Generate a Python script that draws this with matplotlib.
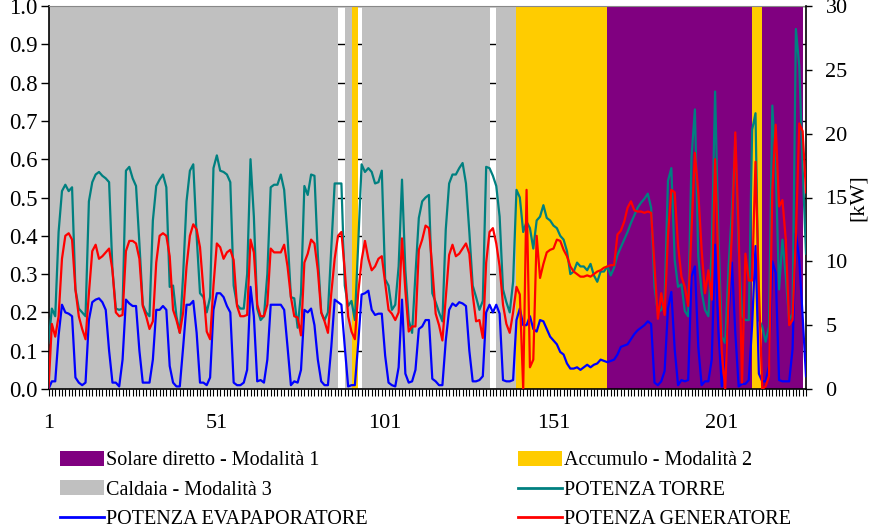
import numpy as np
import matplotlib
matplotlib.use("Agg")
import matplotlib.pyplot as plt
from matplotlib.patches import Patch
from matplotlib.lines import Line2D

# ---------------- data ----------------
# operating mode per hour, as runs of (mode code, number of hours)
# 1 = Solare diretto, 2 = Accumulo, 3 = Caldaia, 0 = none
mode_runs = [(3, 86), (0, 2), (3, 2), (2, 2), (0, 1), (3, 38), (0, 2), (3, 6),
             (2, 27), (1, 43), (2, 3), (1, 12), (0, 2)]

torre = [3.6, 6.3, 5.7, 12.3, 15.5, 16.0, 15.5, 15.8, 7.8, 6.3,
         6.0, 5.7, 14.7, 16.2, 16.8, 17.0, 16.7, 16.5, 16.2, 9.3,
         6.3, 6.2, 6.3, 17.1, 17.4, 16.5, 15.9, 11.4, 6.6, 6.0,
         5.7, 13.2, 15.9, 16.4, 16.8, 15.8, 8.0, 8.1, 5.7, 4.4,
         9.0, 14.7, 17.1, 17.6, 12.0, 7.5, 7.2, 6.0, 7.2, 17.3,
         18.3, 17.1, 17.0, 16.8, 16.2, 8.1, 6.6, 6.3, 6.3, 9.0,
         18.0, 13.5, 6.3, 5.4, 5.7, 9.0, 15.8, 16.0, 16.0, 16.8,
         15.6, 12.0, 7.2, 7.1, 4.8, 7.5, 15.9, 15.2, 16.8, 16.7,
         10.5, 6.0, 5.4, 6.0, 11.1, 16.1, 16.1, 16.1, 8.1, 6.5,
         6.9, 5.4, 11.4, 17.6, 17.0, 17.3, 17.0, 16.1, 16.2, 17.1,
         8.6, 8.1, 6.2, 6.6, 9.6, 16.4, 9.3, 5.4, 4.4, 9.0,
         13.4, 14.7, 15.0, 15.2, 7.5, 6.8, 6.0, 5.3, 12.5, 16.1,
         16.8, 16.8, 17.3, 17.7, 16.1, 12.3, 8.1, 7.2, 6.2, 6.9,
         17.4, 17.3, 16.7, 15.9, 13.5, 7.8, 6.8, 6.0, 8.4, 15.6,
         15.0, 12.3, 13.1, 12.6, 11.0, 13.2, 13.5, 14.4, 13.4, 13.2,
         12.8, 12.6, 12.0, 11.7, 10.8, 9.0, 9.2, 9.9, 9.6, 9.6,
         9.3, 9.8, 8.9, 8.4, 9.2, 9.2, 9.6, 8.9, 9.5, 10.5,
         11.1, 11.7, 12.3, 13.0, 13.6, 14.2, 14.6, 14.9, 15.3, 14.2,
         8.0, 6.0, 6.2, 7.0, 16.3, 17.3, 10.1, 8.0, 8.2, 6.1,
         5.7, 18.2, 21.9, 10.4, 7.6, 6.2, 5.7, 11.0, 23.3, 12.0,
         4.1, 3.6, 9.6, 14.0, 19.5, 11.0, 5.7, 5.4, 5.4, 20.3,
         21.6, 5.4, 4.9, 3.7, 4.9, 22.2, 17.4, 7.8, 11.7, 8.8,
         5.4, 5.9, 28.2, 25.3, 17.4, 10.6]

evaporatore = [0.0, 0.6, 0.6, 4.2, 6.6, 6.0, 5.9, 5.7, 0.9, 0.5,
               0.3, 0.5, 5.4, 6.8, 7.0, 7.1, 6.8, 6.2, 3.0, 0.5,
               0.5, 0.2, 2.3, 7.0, 6.7, 6.5, 6.5, 3.0, 0.5, 0.5,
               0.5, 2.3, 6.2, 6.2, 6.5, 6.2, 1.8, 0.5, 0.2, 0.2,
               3.3, 6.6, 6.6, 6.9, 4.4, 0.5, 0.5, 0.3, 0.9, 6.2,
               7.5, 7.5, 7.2, 6.5, 6.0, 0.5, 0.3, 0.3, 0.5, 1.5,
               8.0, 5.7, 0.6, 0.7, 0.5, 2.3, 6.6, 6.6, 6.6, 6.6,
               6.2, 3.3, 0.3, 0.6, 0.5, 1.5, 6.2, 6.0, 6.3, 5.0,
               2.3, 0.6, 0.3, 0.3, 3.3, 7.0, 6.8, 6.6, 3.3, 0.2,
               0.3, 0.3, 3.6, 7.4, 7.5, 7.7, 6.2, 5.8, 5.9, 5.9,
               2.6, 0.5, 0.3, 0.2, 1.7, 7.0, 1.2, 0.5, 0.6, 1.5,
               4.7, 4.9, 5.4, 5.4, 0.8, 0.6, 0.3, 0.3, 3.8, 6.2,
               6.7, 6.5, 6.8, 6.7, 6.5, 3.0, 0.6, 0.6, 0.7, 1.0,
               6.0, 6.6, 6.0, 6.6, 5.9, 0.7, 0.6, 0.6, 0.7, 5.4,
               6.3, 5.0, 5.0, 5.7, 4.7, 4.5, 5.4, 5.3, 4.7, 4.1,
               3.8, 3.5, 2.9, 2.7, 2.0, 1.6, 1.6, 1.7, 1.5, 1.7,
               1.9, 1.7, 1.9, 2.0, 2.3, 2.2, 2.1, 2.2, 2.3, 2.7,
               3.3, 3.4, 3.5, 3.9, 4.3, 4.6, 4.8, 5.0, 5.3, 5.1,
               0.5, 0.3, 0.6, 1.4, 6.3, 7.6, 3.1, 0.3, 0.7, 0.6,
               0.7, 8.8, 9.6, 3.3, 0.3, 0.6, 0.6, 2.3, 11.3, 4.4,
               0.2, 1.8, 5.7, 9.9, 4.4, 0.2, 0.4, 0.4, 0.7, 5.0,
               11.2, 1.2, 0.6, 0.6, 1.8, 10.0, 9.1, 0.7, 0.6, 0.6,
               0.6, 3.1, 12.2, 10.1, 5.7, 1.0]

generatore = [0.0, 5.1, 4.1, 5.7, 10.2, 12.0, 12.2, 11.7, 7.8, 5.7,
              4.7, 3.9, 7.5, 10.8, 11.3, 10.2, 10.4, 10.7, 11.0, 9.3,
              6.0, 5.7, 5.8, 10.8, 11.6, 11.6, 11.4, 10.2, 6.5, 5.7,
              4.7, 5.3, 9.9, 12.0, 12.2, 12.0, 10.4, 6.2, 5.4, 4.4,
              6.0, 9.6, 12.0, 12.9, 12.5, 11.1, 7.8, 4.5, 3.9, 8.1,
              11.4, 11.1, 10.2, 10.7, 10.9, 10.1, 6.5, 5.7, 5.7, 5.8,
              11.7, 10.7, 6.6, 5.7, 5.7, 6.6, 11.0, 10.7, 10.7, 10.7,
              11.3, 9.6, 7.2, 5.7, 5.6, 4.2, 9.9, 10.6, 11.7, 11.4,
              9.3, 6.0, 5.3, 4.4, 7.5, 10.2, 12.0, 12.3, 9.3, 5.7,
              4.5, 3.9, 7.5, 10.1, 11.6, 10.2, 9.3, 9.6, 10.2, 10.4,
              8.3, 6.2, 5.9, 5.4, 6.0, 11.8, 7.7, 4.5, 4.9, 4.9,
              10.9, 11.7, 12.8, 12.6, 9.5, 5.9, 5.0, 3.8, 7.2, 10.5,
              11.3, 10.4, 10.6, 11.0, 11.4, 10.6, 7.4, 5.3, 5.4, 4.0,
              9.9, 12.3, 12.6, 11.4, 9.6, 6.6, 5.1, 4.4, 6.0, 8.0,
              7.4, 0.0, 15.6, 1.7, 2.3, 12.0, 8.7, 9.8, 10.7, 10.9,
              11.0, 11.7, 11.6, 10.9, 10.4, 9.6, 9.2, 9.0, 8.8, 8.8,
              8.9, 8.8, 9.0, 9.2, 9.3, 9.5, 9.6, 9.7, 9.7, 12.1,
              12.4, 13.1, 14.2, 14.7, 14.0, 13.9, 13.9, 13.8, 13.9, 13.8,
              9.6, 5.5, 7.5, 5.8, 12.0, 15.6, 15.4, 11.2, 8.8, 8.0,
              6.5, 12.5, 18.5, 15.4, 10.9, 7.5, 9.3, 7.0, 18.0, 9.6,
              2.8, 0.0, 7.0, 12.2, 20.1, 12.2, 0.5, 10.6, 8.5, 8.5,
              17.8, 8.0, 0.0, 0.2, 1.0, 15.6, 20.7, 14.3, 14.8, 11.7,
              5.0, 5.4, 12.0, 20.8, 20.2, 15.4]

x_tick_labels = ["1", "51", "101", "151", "201"]
mode_labels = {1: "Solare diretto - Modalità 1", 2: "Accumulo - Modalità 2",
               3: "Caldaia - Modalità 3"}
line_labels = ["POTENZA TORRE", "POTENZA EVAPAPORATORE", "POTENZA GENERATORE"]

# ---------------- style ----------------
C_SOL, C_ACC, C_CAL = "#800080", "#FFCC00", "#C0C0C0"
C_TOR, C_EVA, C_GEN = "#008080", "#0000FF", "#FF0000"
FONT = "Liberation Serif"
plt.rcParams["font.family"] = [FONT, "DejaVu Serif"]

codes = np.concatenate([np.full(n, c) for c, n in mode_runs])
n = len(codes)
x = np.arange(1, n + 1)

fig = plt.figure(figsize=(8.76, 5.24), dpi=100)
ax = fig.add_axes([48.5 / 876, 1 - 389 / 524, (806 - 48.5) / 876, (389 - 6) / 524])

for code, col in [(1, C_SOL), (2, C_ACC), (3, C_CAL)]:
    ax.fill_between(x, 0, (codes == code).astype(float), step="post",
                    color=col, linewidth=0, zorder=1)

ax.set_xlim(1, n)
ax.set_ylim(0, 1)
ax.set_axisbelow(True)
ax.yaxis.grid(True, color="black", linewidth=1.0)
ax.set_yticks(np.arange(0, 1.01, 0.1))
ax.set_yticklabels([f"{v:.1f}" for v in np.arange(0, 1.01, 0.1)])
ax.set_xticks([int(s) for s in x_tick_labels])
ax.set_xticklabels(x_tick_labels)
ax.set_xticks(x, minor=True)
ax.tick_params(axis="x", which="both", direction="out", length=5, width=0.8,
               pad=13, labelsize=16)
ax.tick_params(axis="y", direction="out", length=6, width=1, pad=2, labelsize=16.5)
for s in ["left", "bottom"]:
    ax.spines[s].set_color("black")
    ax.spines[s].set_linewidth(1.2)
ax.spines["top"].set_color("#888888")
ax.spines["right"].set_visible(False)

ax2 = ax.twinx()
ax2.plot(x, torre, color=C_TOR, lw=1.6, zorder=3)
ax2.plot(x, evaporatore, color=C_EVA, lw=1.6, zorder=3)
ax2.plot(x, generatore, color=C_GEN, lw=1.6, zorder=4)
ax2.set_ylim(0, 30)
ax2.set_xlim(1, n)
ax2.set_yticks(np.arange(0, 31, 5))
ax2.tick_params(axis="y", direction="out", length=4, width=1, pad=10, labelsize=16)
ax2.set_ylabel("[kW]", fontsize=16, labelpad=1)
ax2.spines["right"].set_color("black")
ax2.spines["right"].set_linewidth(1.2)
ax2.spines["top"].set_visible(False)
ax2.spines["left"].set_visible(False)
ax2.spines["bottom"].set_visible(False)

# legends (two columns)
h1 = [Patch(facecolor=C_SOL, edgecolor="none"),
      Patch(facecolor=C_CAL, edgecolor="none"),
      Line2D([], [], color=C_EVA, lw=2)]
l1 = [mode_labels[1], mode_labels[3], line_labels[1]]
h2 = [Patch(facecolor=C_ACC, edgecolor="none"),
      Line2D([], [], color=C_TOR, lw=2),
      Line2D([], [], color=C_GEN, lw=2)]
l2 = [mode_labels[2], line_labels[0], line_labels[2]]
common = dict(loc="upper left", frameon=False, fontsize=14.5, borderpad=0,
              borderaxespad=0, handlelength=2.2, handleheight=0.75,
              handletextpad=0.1, labelspacing=0.5)
fig.legend(h1, l1, bbox_to_anchor=(60 / 876, 1 - 451 / 524), **common)
fig.legend(h2, l2, bbox_to_anchor=(518 / 876, 1 - 451 / 524), **common)

fig.savefig("out.png", dpi=100)
